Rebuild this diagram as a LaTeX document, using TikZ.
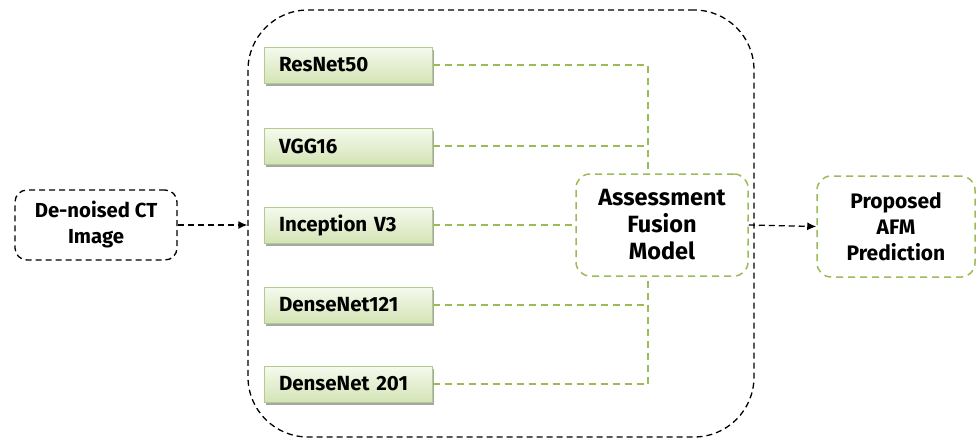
\documentclass[tikz,border=0pt]{standalone}
\usepackage{fontspec}
\setmainfont{Fira Sans}
\usetikzlibrary{arrows.meta,shadows,calc}
\definecolor{leaf}{HTML}{9BBB59}
\definecolor{netedge}{HTML}{B3CB8C}
\definecolor{nettop}{HTML}{F6FAEE}
\definecolor{netbot}{HTML}{D3E4B5}
\tikzstyle{net} = [rectangle, draw=netedge, line width=1pt, top color=nettop, bottom color=netbot, drop shadow={shadow xshift=2pt, shadow yshift=-3pt, fill=black!35, opacity=1}, minimum height=36pt, text width=138pt, inner xsep=15pt, align=left, font=\fontsize{20.5}{26}\selectfont\bfseries]
\tikzstyle{blk} = [rectangle, draw, dashed, line width=1.3pt, rounded corners=12pt, dash pattern=on 6pt off 4pt, align=center]
\tikzstyle{grn} = [rectangle, draw=leaf, line width=1.5pt, rounded corners=14pt, dash pattern=on 7pt off 5pt, align=center]
\tikzstyle{lnk} = [draw=leaf, line width=1.5pt, dash pattern=on 7pt off 5pt]
\tikzstyle{flow} = [draw, line width=1.3pt, dash pattern=on 6pt off 4pt, -{Latex[length=9pt,width=8pt]}]

\begin{document}
\begin{tikzpicture}[x=1pt, y=-1pt, font=\fontsize{20.3}{26}\selectfont\bfseries]
	\useasboundingbox (0,0) rectangle (977,439);
	% ensemble frame
	\node[blk, rounded corners=60pt, minimum width=506pt, minimum height=427pt] (ens) at (501,223.5) {};
	\node[blk, minimum width=162pt, minimum height=70pt] (img) at (96,225) {De-noised CT\\Image};
	\node[net] (res) at (348,65) {ResNet50};
	\node[net] (vgg) at (348,146) {VGG16};
	\node[net] (inc) at (348,225) {Inception V3};
	\node[net] (d121) at (348,305) {DenseNet121};
	\node[net] (d201) at (348,384) {DenseNet 201};
	\node[grn, minimum width=172pt, minimum height=102pt, font=\fontsize{23.5}{27}\selectfont\bfseries] (fus) at (662,225) {Assessment\\Fusion\\Model};
	\node[grn, minimum width=158pt, minimum height=101pt, font=\fontsize{21}{26}\selectfont\bfseries] (out) at (896,226.5) {Proposed\\AFM\\Prediction};
	\coordinate (jx) at (648,0);
	% links into fusion
	\draw[lnk] (res.east) -| (jx |- fus.north);
	\draw[lnk] (vgg.east) -- (vgg.east -| jx);
	\draw[lnk] (inc.east) -- (fus.west);
	\draw[lnk] (d201.east) -| (jx |- fus.south);
	\draw[lnk] (d121.east) -- (d121.east -| jx);
	\draw[flow] (img.east) -- (img.east -| ens.west);
	\draw[flow] (fus.east) -- (out.west);
\end{tikzpicture}
\end{document}
